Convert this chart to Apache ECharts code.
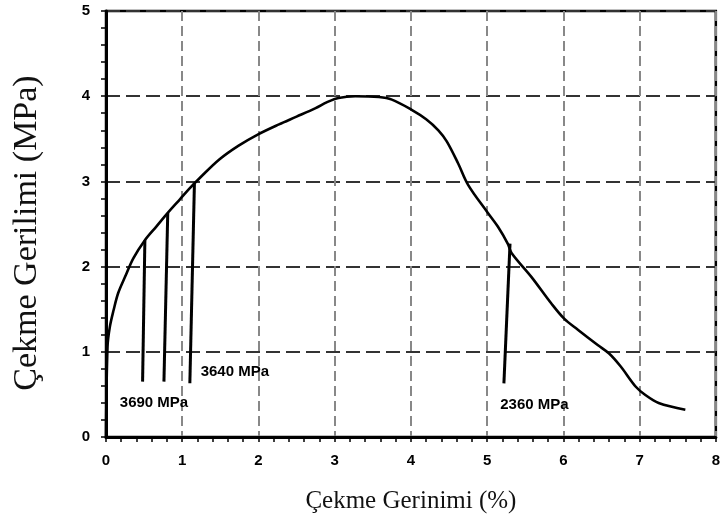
<!DOCTYPE html>
<html>
<head>
<meta charset="utf-8">
<script src="https://cdn.jsdelivr.net/npm/echarts@6/dist/echarts.min.js"></script>
<style>
  html, body { margin: 0; padding: 0; background: #fff; }
  #chart { width: 723px; height: 525px; }
</style>
</head>
<body>
<div id="chart"></div>
<script>
// strain (%) / stress (MPa)
var strain = [0, 0.02, 0.05, 0.10, 0.16, 0.25, 0.36, 0.51, 0.66, 0.81, 0.97, 1.1, 1.23, 1.49, 1.74, 1.99, 2.27, 2.5, 2.75, 2.9, 3.05, 3.27, 3.58, 3.75, 4.01, 4.2, 4.36, 4.47, 4.62, 4.75, 5.01, 5.14, 5.27, 5.32, 5.58, 5.84, 6.01, 6.19, 6.45, 6.6, 6.75, 6.95, 7.08, 7.25, 7.6];
var stress = [0, 1.06, 1.29, 1.49, 1.69, 1.88, 2.1, 2.31, 2.47, 2.63, 2.79, 2.92, 3.04, 3.26, 3.42, 3.55, 3.67, 3.76, 3.86, 3.93, 3.98, 4.0, 3.99, 3.96, 3.84, 3.73, 3.6, 3.47, 3.21, 2.96, 2.63, 2.47, 2.27, 2.16, 1.88, 1.57, 1.39, 1.26, 1.08, 0.98, 0.83, 0.59, 0.49, 0.4, 0.32];

// the near-vertical unloading lines: [top, bottom]
var dropTopX = [0.51, 0.81, 1.16, 5.3];
var dropTopY = [2.31, 2.63, 2.98, 2.27];
var dropBotX = [0.48, 0.76, 1.10, 5.22];
var dropBotY = [0.65, 0.65, 0.63, 0.63];

// modulus notes
var noteText = ['3690 MPa', '3640 MPa', '2360 MPa'];
var noteX = [0.63, 1.69, 5.62];
var noteY = [0.40, 0.77, 0.38];

var xTicks = [0, 1, 2, 3, 4, 5, 6, 7, 8];
var yTicks = [0, 1, 2, 3, 4, 5];

var chart = echarts.init(document.getElementById('chart'));

var curve = strain.map(function (x, i) { return [x, stress[i]]; });
var notes = noteText.map(function (t, i) { return { value: [noteX[i], noteY[i]], name: t }; });

var series = [{
  type: 'line',
  data: curve,
  smooth: 0.35,
  showSymbol: false,
  lineStyle: { color: '#000', width: 2.6 },
  z: 5
}];
dropTopX.forEach(function (x, i) {
  series.push({
    type: 'line',
    data: [[x, dropTopY[i]], [dropBotX[i], dropBotY[i]]],
    showSymbol: false,
    lineStyle: { color: '#000', width: 3 },
    z: 5
  });
});
series.push({
  type: 'scatter',
  data: notes,
  symbolSize: 0,
  itemStyle: { opacity: 1 },
  label: {
    show: true,
    position: 'inside',
    formatter: '{b}',
    color: '#000',
    fontFamily: 'Liberation Sans',
    fontWeight: 'bold',
    fontSize: 15
  },
  z: 6
});

var option = {
  animation: false,
  grid: {
    left: 106, right: 5, top: 11, bottom: 88,
    show: true, borderColor: '#000', borderWidth: 2.5
  },
  xAxis: {
    type: 'value', min: xTicks[0], max: xTicks[xTicks.length - 1], interval: 1,
    name: 'Çekme Gerinimi (%)',
    nameLocation: 'middle',
    nameGap: 52,
    nameTextStyle: { fontFamily: 'Liberation Serif', fontSize: 25, color: '#111' },
    axisLine: { lineStyle: { color: '#000', width: 3 } },
    axisTick: { show: true, length: 5, lineStyle: { color: '#000', width: 1.5 } },
    minorTick: { show: true, splitNumber: 5, length: 5, lineStyle: { color: '#000', width: 1.5 } },
    axisLabel: { margin: 16, color: '#000', fontFamily: 'Liberation Sans', fontWeight: 'bold', fontSize: 15 },
    splitLine: { show: true, lineStyle: { color: '#888', width: 2, type: [10, 5] } }
  },
  yAxis: {
    type: 'value', min: yTicks[0], max: yTicks[yTicks.length - 1], interval: 1,
    name: 'Çekme Gerilimi (MPa)',
    nameLocation: 'middle',
    nameGap: 62,
    nameTextStyle: { fontFamily: 'Liberation Serif', fontSize: 34, color: '#111', padding: [0, 18, 0, 0] },
    axisLine: { lineStyle: { color: '#000', width: 3 } },
    axisTick: { show: true, length: 5, lineStyle: { color: '#000', width: 1.5 } },
    minorTick: { show: true, splitNumber: 5, length: 5, lineStyle: { color: '#000', width: 1.5 } },
    axisLabel: { margin: 16, color: '#000', fontFamily: 'Liberation Sans', fontWeight: 'bold', fontSize: 15 },
    splitLine: { show: true, lineStyle: { color: '#333', width: 2, type: [14, 6] } }
  },
  series: series
};

option && chart.setOption(option);
</script>
</body>
</html>
